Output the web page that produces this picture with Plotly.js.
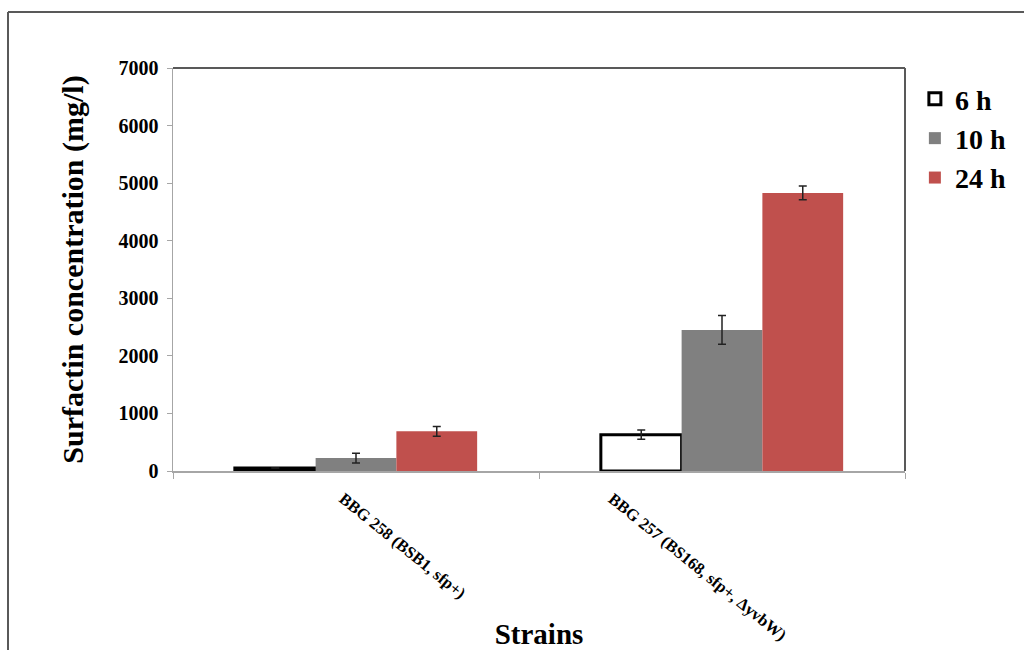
<!DOCTYPE html>
<html>
<head>
<meta charset="utf-8">
<script src="https://cdn.plot.ly/plotly-3.0.1.min.js"></script>
<style>html,body{margin:0;padding:0;background:#fff;}#chart{width:1024px;height:650px;}</style>
</head>
<body>
<div id="chart"></div>
<script>
const categories = ['BBG 258 (BSB1, sfp+)', 'BBG 257 (BS168, sfp+, \u0394yvbW)'];
const seriesNames = ['6 h', '10 h', '24 h'];
const h6 = [50, 630];
const err6 = [0, 80];
const h10 = [225, 2450];
const err10 = [85, 250];
const h24 = [690, 4830];
const err24 = [85, 120];
const yTicks = [0, 1000, 2000, 3000, 4000, 5000, 6000, 7000];
const xTitle = 'Strains';
const yTitle = 'Surfactin concentration (mg/l)';

const serif = '"Liberation Serif", "Times New Roman", serif';
const errStyle = {type: 'data', visible: true, color: '#222', thickness: 1.5, width: 4};

const traces = [
  {type: 'bar', name: seriesNames[0], x: categories, y: h6, legendgroup: 'a',
   marker: {color: '#ffffff', line: {color: '#000000', width: 3}},
   error_y: Object.assign({array: err6}, errStyle)},
  {type: 'bar', name: seriesNames[1], x: categories, y: h10, legendgroup: 'b',
   marker: {color: '#808080', line: {width: 0}},
   error_y: Object.assign({array: err10}, errStyle)},
  {type: 'bar', name: seriesNames[2], x: categories, y: h24, legendgroup: 'c',
   marker: {color: '#C0504D', line: {width: 0}},
   error_y: Object.assign({array: err24}, errStyle)}
];

const labelShift = [46, -25];
const annotations = categories.map((c, i) => ({
  xref: 'x', yref: 'paper', x: c, y: 0, xanchor: 'center', yanchor: 'top',
  xshift: labelShift[i], yshift: -15, textangle: 39, showarrow: false,
  text: c, font: {family: serif, size: 16.5, weight: 'bold', color: '#000'}
}));

const borderColor = '#595959';
const layout = {
  width: 1024, height: 650,
  margin: {l: 173, r: 119, t: 68, b: 179},
  paper_bgcolor: '#fff', plot_bgcolor: '#fff',
  barmode: 'group', bargap: 0.338, bargroupgap: 0,
  showlegend: true,
  legend: {x: 1.0135, xanchor: 'left', y: 0.985, yanchor: 'top',
           font: {family: serif, size: 28, weight: 'bold', color: '#000'},
           tracegroupgap: 0, bgcolor: 'rgba(0,0,0,0)'},
  xaxis: {type: 'category', showticklabels: false, showgrid: false,
          showline: true, linecolor: '#a6a6a6', linewidth: 1.5,
          ticks: 'outside', tickson: 'boundaries', ticklen: 6, tickcolor: '#a6a6a6',
          title: {text: xTitle, standoff: 155, font: {family: serif, size: 29, weight: 'bold', color: '#000'}},
          zeroline: false, fixedrange: true},
  yaxis: {range: [0, 7000], tickvals: yTicks, ticktext: yTicks.map(String),
          showgrid: false, zeroline: false,
          showline: true, linecolor: '#a6a6a6', linewidth: 1.5,
          ticks: 'outside', ticklen: 5, tickcolor: '#a6a6a6', ticklabelstandoff: 4,
          tickfont: {family: serif, size: 20, weight: 'bold', color: '#000'},
          title: {text: yTitle, standoff: 26, font: {family: serif, size: 30, weight: 'bold', color: '#000'}},
          fixedrange: true},
  annotations: annotations,
  shapes: [
    {type: 'line', xref: 'paper', yref: 'paper', x0: 0, x1: 1, y0: 1, y1: 1, line: {color: borderColor, width: 2}},
    {type: 'line', xref: 'paper', yref: 'paper', x0: 1, x1: 1, y0: 0, y1: 1, line: {color: borderColor, width: 2}},
    {type: 'line', xref: 'paper', yref: 'paper', x0: -0.2254, x1: -0.2254, y0: -1, y1: 1.139, line: {color: borderColor, width: 2}},
    {type: 'line', xref: 'paper', yref: 'paper', x0: -0.2254, x1: 1.5, y0: 1.139, y1: 1.139, line: {color: borderColor, width: 2}}
  ]
};

Plotly.newPlot('chart', traces, layout, {displayModeBar: false, staticPlot: true});
</script>
</body>
</html>
